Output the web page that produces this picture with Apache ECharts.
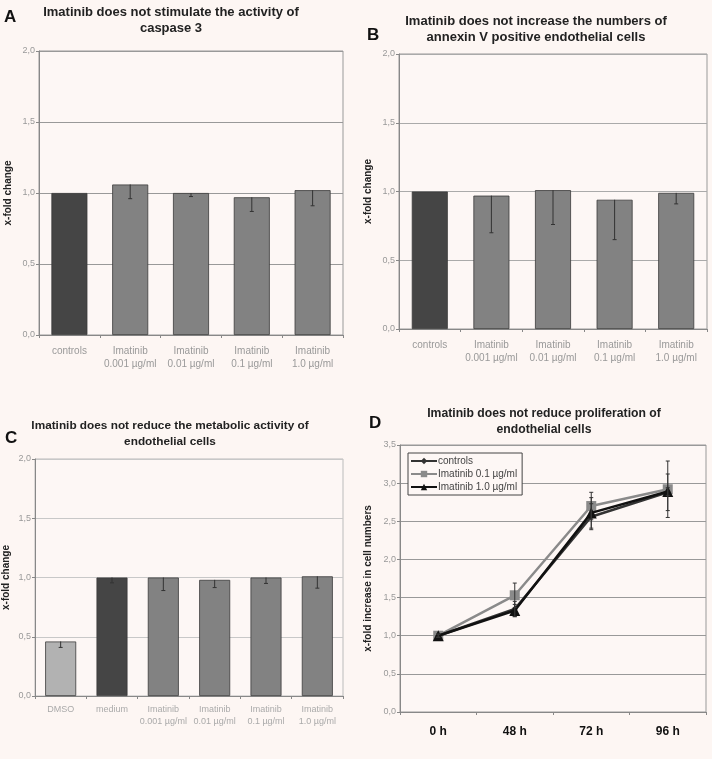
<!DOCTYPE html>
<html><head><meta charset="utf-8">
<script src="https://cdn.jsdelivr.net/npm/echarts@6/dist/echarts.min.js"></script>
<style>html,body{margin:0;padding:0;background:#fdf6f3;}#c{width:712px;height:759px;}</style>
</head><body><div id="c"></div>
<script>
// ---- data ----
const catsAB = ['controls', 'Imatinib\n0.001 µg/ml', 'Imatinib\n0.01 µg/ml', 'Imatinib\n0.1 µg/ml', 'Imatinib\n1.0 µg/ml'];
const aValues = [1.00, 1.06, 1.00, 0.97, 1.02];
const aErr    = [0.00, 0.10, 0.025, 0.10, 0.11];
const bValues = [1.00, 0.97, 1.01, 0.94, 0.99];
const bErr    = [0.00, 0.27, 0.25, 0.29, 0.08];
const catsC = ['DMSO', 'medium', 'Imatinib\n0.001 µg/ml', 'Imatinib\n0.01 µg/ml', 'Imatinib\n0.1 µg/ml', 'Imatinib\n1.0 µg/ml'];
const cValues = [0.46, 1.00, 1.00, 0.98, 1.00, 1.01];
const cErr    = [0.05, 0.045, 0.11, 0.065, 0.05, 0.10];
const catsD = ['0 h', '48 h', '72 h', '96 h'];
const dControls = [1.00, 1.35, 2.56, 2.88];
const dControlsErr = [0.02, 0.10, 0.17, 0.24];
const dIm01 = [1.00, 1.53, 2.70, 2.92];
const dIm01Err = [0.02, 0.16, 0.18, 0.37];
const dIm10 = [1.00, 1.33, 2.61, 2.89];
const dIm10Err = [0.02, 0.08, 0.20, 0.05];
const titles = [
  'Imatinib does not stimulate the activity of\ncaspase 3',
  'Imatinib does not increase the numbers of\nannexin V positive endothelial cells',
  'Imatinib does not reduce the metabolic activity of\nendothelial cells',
  'Imatinib does not reduce proliferation of\nendothelial cells'
];
const panelLetters = ['A', 'B', 'C', 'D'];

// ---- styles ----
const FONT = '"Liberation Sans", Arial, sans-serif';
const colorsAB = ['#454545', '#828282', '#828282', '#828282', '#828282'];
const colorsC = ['#b2b2b2', '#454545', '#828282', '#828282', '#828282', '#828282'];
const fmt = v => v.toFixed(1).replace('.', ',');

const chart = echarts.init(document.getElementById('c'));

function yAxis(gi, max, interval, name, gridColor, nameGap) {
  return {
    gridIndex: gi, type: 'value', min: 0, max: max, interval: interval,
    name: name, nameLocation: 'middle', nameGap: nameGap, nameRotate: 90,
    nameTextStyle: {fontFamily: FONT, fontSize: 10, fontWeight: 'bold', color: '#222'},
    axisLine: {show: true, lineStyle: {color: '#888'}},
    axisTick: {show: true, length: 3, lineStyle: {color: '#888'}},
    axisLabel: {fontFamily: FONT, fontSize: 9, color: '#999', formatter: fmt, margin: 4},
    splitLine: {show: true, lineStyle: {color: gridColor, width: 1}}
  };
}
function xAxis(gi, cats, labelStyle) {
  return {
    gridIndex: gi, type: 'category', data: cats,
    axisLine: {show: true, lineStyle: {color: '#888'}},
    axisTick: {show: true, length: 3, alignWithLabel: false, lineStyle: {color: '#888'}},
    axisLabel: Object.assign({fontFamily: FONT, interval: 0, margin: 10, lineHeight: 13}, labelStyle)
  };
}
function errBars(xi, yi, vals, errs, both, capW) {
  return {
    type: 'custom', xAxisIndex: xi, yAxisIndex: yi, z: 5, silent: true,
    data: vals.map((v, i) => [i, v, errs[i]]),
    renderItem: function (params, api) {
      const i = api.value(0), v = api.value(1), e = api.value(2);
      if (!e) return null;
      const top = api.coord([i, both ? v + e : v]);
      const bot = api.coord([i, v - e]);
      const ch = [];
      ch.push({type: 'line', shape: {x1: top[0], y1: top[1], x2: bot[0], y2: bot[1]}, style: {stroke: '#333', lineWidth: 1}});
      ch.push({type: 'line', shape: {x1: bot[0] - capW, y1: bot[1], x2: bot[0] + capW, y2: bot[1]}, style: {stroke: '#333', lineWidth: 1}});
      if (both) ch.push({type: 'line', shape: {x1: top[0] - capW, y1: top[1], x2: top[0] + capW, y2: top[1]}, style: {stroke: '#333', lineWidth: 1}});
      return {type: 'group', children: ch};
    }
  };
}
function bars(xi, yi, vals, colors, barW) {
  return {
    type: 'bar', xAxisIndex: xi, yAxisIndex: yi, barWidth: barW,
    data: vals.map((v, i) => ({value: v, itemStyle: {color: colors[i], borderColor: '#3a3a3a', borderWidth: 0.8}}))
  };
}

const titlePos = [[171, 4], [536, 13], [170, 418], [544, 406]];
const titleSize = [13, 13, 11.8, 12.2];
const letterPos = [[4, 9], [367, 27], [5, 430], [369, 415]];
const graphics = [];
titles.forEach((t, i) => {
  graphics.push({type: 'text', x: titlePos[i][0], y: titlePos[i][1], style: {text: t, textAlign: 'center', font: 'bold ' + titleSize[i] + 'px ' + FONT, fill: '#222', lineHeight: 16}});
  graphics.push({type: 'text', x: letterPos[i][0], y: letterPos[i][1], style: {text: panelLetters[i], font: 'bold 17px ' + FONT, fill: '#111'}});
});

const option = {
  backgroundColor: '#fdf6f3',
  animation: false,
  graphic: graphics,
  grid: [
    {left: 39, top: 51, width: 304, height: 284, show: true, borderColor: '#999', borderWidth: 1, backgroundColor: '#fdf7f5'},
    {left: 399, top: 54, width: 308, height: 275, show: true, borderColor: '#999', borderWidth: 1, backgroundColor: '#fdf7f5'},
    {left: 34, top: 459, width: 309, height: 237, show: true, borderColor: '#bbb', borderWidth: 1, backgroundColor: '#fdf7f5'},
    {left: 400, top: 445, width: 306, height: 267, show: true, borderColor: '#999', borderWidth: 1, backgroundColor: '#fdf7f5'}
  ],
  xAxis: [
    xAxis(0, catsAB, {fontSize: 10, color: '#999'}),
    xAxis(1, catsAB, {fontSize: 10, color: '#999'}),
    xAxis(2, catsC, {fontSize: 9, color: '#aaa', margin: 8, lineHeight: 12}),
    xAxis(3, catsD, {fontSize: 12, color: '#111', fontWeight: 'bold', margin: 13})
  ],
  yAxis: [
    yAxis(0, 2, 0.5, 'x-fold change', '#999', 26),
    yAxis(1, 2, 0.5, 'x-fold change', '#aaa', 26),
    yAxis(2, 2, 0.5, 'x-fold change', '#c8c8c8', 24),
    yAxis(3, 3.5, 0.5, 'x-fold increase in cell numbers', '#999', 27)
  ],
  legend: {
    left: 408, top: 453, orient: 'vertical', itemGap: 3, itemWidth: 26, itemHeight: 8,
    padding: [3, 5, 3, 2], borderColor: '#444', borderWidth: 1, backgroundColor: '#fdf7f5',
    textStyle: {fontFamily: FONT, fontSize: 10, color: '#444', padding: [0, 0, 0, -4]},
    data: ['controls', 'Imatinib 0.1 µg/ml', 'Imatinib 1.0 µg/ml']
  },
  series: [
    bars(0, 0, aValues, colorsAB, 36),
    errBars(0, 0, aValues, aErr, false, 2),
    bars(1, 1, bValues, colorsAB, 36),
    errBars(1, 1, bValues, bErr, false, 2),
    bars(2, 2, cValues, colorsC, 31),
    errBars(2, 2, cValues, cErr, false, 2),
    {name: 'controls', type: 'line', xAxisIndex: 3, yAxisIndex: 3, data: dControls, symbol: 'diamond', symbolSize: 6,
     lineStyle: {color: '#333', width: 2.5}, itemStyle: {color: '#333'}, z: 3},
    {name: 'Imatinib 0.1 µg/ml', type: 'line', xAxisIndex: 3, yAxisIndex: 3, data: dIm01, symbol: 'rect', symbolSize: 10,
     lineStyle: {color: '#8a8a8a', width: 2.5}, itemStyle: {color: '#8a8a8a'}, z: 2},
    {name: 'Imatinib 1.0 µg/ml', type: 'line', xAxisIndex: 3, yAxisIndex: 3, data: dIm10, symbol: 'triangle', symbolSize: 11,
     lineStyle: {color: '#111', width: 2.5}, itemStyle: {color: '#111'}, z: 4},
    errBars(3, 3, dControls, dControlsErr, true, 2),
    errBars(3, 3, dIm01, dIm01Err, true, 2),
    errBars(3, 3, dIm10, dIm10Err, true, 2)
  ]
};
chart.setOption(option);
</script>
</body></html>
